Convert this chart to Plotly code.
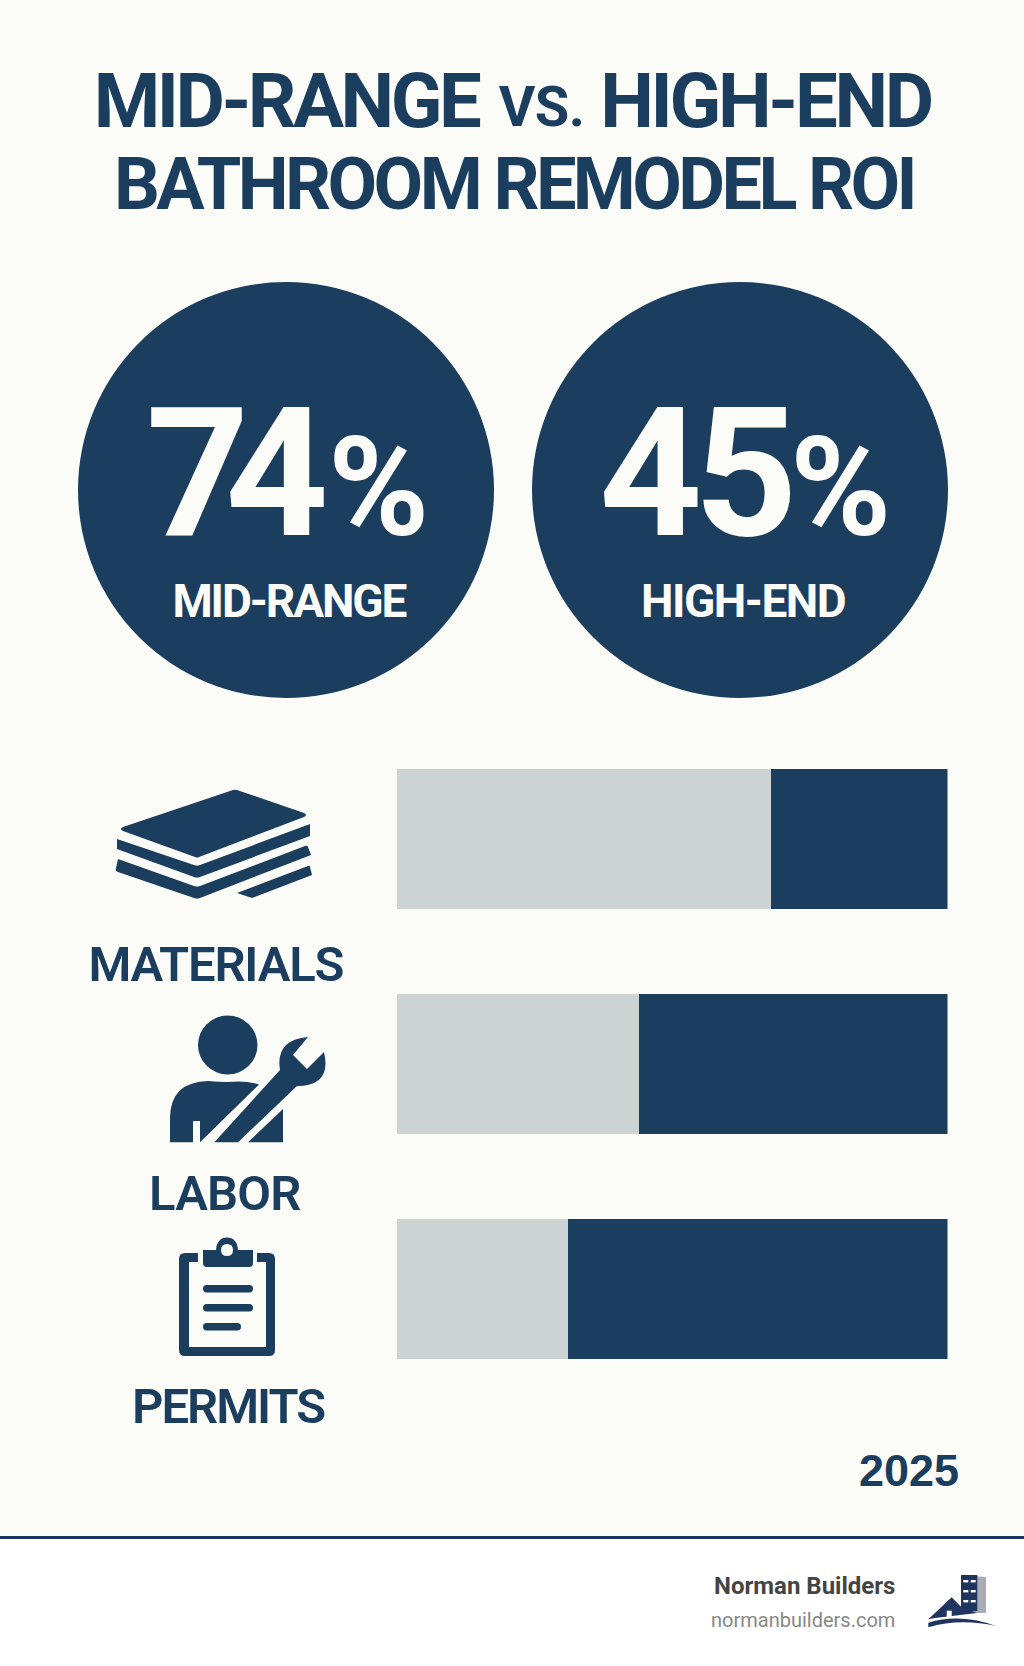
import json
import plotly.graph_objects as go

# ==========================================
# data
# ==========================================
categories = ['MATERIALS', 'LABOR', 'PERMITS']
mid_range_share = [68, 44, 31]
high_end_share = [32, 56, 69]

roi_labels = ['MID-RANGE', 'HIGH-END']
roi_values = ['74', '45']

NAVY = '#1b3d5e'
GREY = '#cdd3d3'
BG = '#fbfcf8'
WHITE = '#fbfbf8'
W, H = 1024, 1666

fig = go.Figure()

# stacked bars, on their own axes placed over the right part of the page
fig.add_trace(go.Bar(y=categories, x=mid_range_share, orientation='h', name='Mid-range',
                     marker=dict(color=GREY, line_width=0), showlegend=False))
fig.add_trace(go.Bar(y=categories, x=high_end_share, orientation='h', name='High-end',
                     marker=dict(color=NAVY, line_width=0), showlegend=False))
# empty trace so the page-pixel axes exist
fig.add_trace(go.Scatter(x=[None], y=[None], xaxis='x2', yaxis='y2', showlegend=False, hoverinfo='skip'))

spacing = []  # letter spacing per annotation, applied in the page after plotting


def add_text(text, x, y, size, color=NAVY, anchor='center', family='Roboto', weight=700, ls=0):
    spacing.append(ls)
    fig.add_annotation(text=text, x=x, y=y, xref='x2', yref='y2', showarrow=False,
                       xanchor=anchor, yanchor='middle', borderpad=0,
                       font=dict(family=family, size=size, color=color, weight=weight))


def add_path(path, color=NAVY):
    fig.add_shape(type='path', path=path, xref='x2', yref='y2', fillcolor=color, line_width=0, layer='above')


def add_round_rect(x0, y0, x1, y1, color=NAVY):
    r = (y1 - y0) / 2
    add_path(f'M{x0 + r},{y0} L{x1 - r},{y0} Q{x1},{y0} {x1},{y0 + r} Q{x1},{y1} {x1 - r},{y1} '
             f'L{x0 + r},{y1} Q{x0},{y1} {x0},{y0 + r} Q{x0},{y0} {x0 + r},{y0} Z', color)


# footer band and rule
fig.add_shape(type='rect', x0=0, x1=W, y0=1537, y1=H, xref='x2', yref='y2', fillcolor='#ffffff', line_width=0, layer='below')
fig.add_shape(type='rect', x0=0, x1=W, y0=1536, y1=1539, xref='x2', yref='y2', fillcolor='#1f3560', line_width=0, layer='below')

# title
add_text('MID-RANGE', 286, 101, 76, ls=-3.5)
add_text('VS.', 541.5, 107, 56, ls=-0.5)
add_text('HIGH-END', 765.5, 101, 76, ls=-3.3)
add_text('BATHROOM REMODEL ROI', 513.5, 184, 72, ls=-3.6)

# ROI circles
for cx in [286, 740]:
    fig.add_shape(type='circle', x0=cx - 208, x1=cx + 208, y0=282, y1=698, xref='x2', yref='y2',
                  fillcolor=NAVY, line_width=0, layer='below')
add_text(roi_values[0], 225.5, 473, 180, WHITE, ls=-24)
add_text('%', 378, 488, 137, WHITE)
add_text(roi_values[1], 694, 473, 180, WHITE, ls=-8)
add_text('%', 840, 488, 137, WHITE)
add_text(roi_labels[0], 289, 601, 46, WHITE, ls=-2.1)
add_text(roi_labels[1], 743, 601, 46, WHITE, ls=-1.5)

# category labels
add_text(categories[0], 215.5, 964, 49, weight=600, ls=-1.2)
add_text(categories[1], 225, 1193, 49, weight=600, ls=-0.8)
add_text(categories[2], 228, 1406, 49, weight=600, ls=-2)

# stack of sheets icon
add_path('M233,790 Q235,789.5 237,790 L304,813 Q308,815 304,817 L199,857 Q197,858 195,857 L123,831 Q119,829 123,827 Z')
add_path('M117,839 L194,865 Q197,866 200,865 L310,824 L310,836 L200,877 Q197,878 194,877 L117,849 Z')
add_path('M118,859 L194,886 Q197,887 200,886 L305,846 Q307,845 308,847 L311,855 L200,898 Q197,899 194,898 L118,872 Q115,871 116,868 Z')
add_path('M237,893 L308,866 Q310,865 310,867 L312,875 L252,898 Z')

# worker with wrench icon
fig.add_shape(type='circle', x0=198, x1=257.5, y0=1015.5, y1=1074.5, xref='x2', yref='y2', fillcolor=NAVY, line_width=0, layer='above')
add_path('M170,1142.3 L170,1117 Q171,1082 208,1081 Q218,1082 228,1082 Q245,1080 259,1084.5 L200,1142.3 '
         'L200,1121 L193,1121 L193,1142.3 Z')
add_path('M248,1142.3 L283,1109 L283,1142.3 Z')
add_path('M214.3,1142.3 L280,1070 Q275,1040 308,1037 L293,1055 L307,1069 L324,1052 Q332,1086 297,1086 L238,1142.3 Z')

# clipboard icon
add_path('M198,1253 L185,1253 Q179,1253 179,1259 L179,1350 Q179,1356 185,1356 L269,1356 Q275,1356 275,1350 '
         'L275,1259 Q275,1253 269,1253 L257,1253 L257,1262 L266,1262 L266,1347 L189,1347 L189,1262 L198,1262 Z')
add_path('M203,1250 L216,1250 Q217,1237.5 227,1237.5 Q237,1237.5 238,1250 L253,1250 Q253,1250 253,1250 L253,1263 '
         'Q253,1267 249,1267 L207,1267 Q203,1267 203,1263 Z '
         'M221,1250 Q221,1256 227,1256 Q233,1256 233,1250 Q233,1244 227,1244 Q221,1244 221,1250 Z')
add_round_rect(203, 1285, 253, 1292.5)
add_round_rect(203, 1304, 253, 1311.5)
add_round_rect(203, 1323, 241, 1330.5)

# 2025 + footer brand
add_text('2025', 960, 1470, 45, anchor='right', family='Liberation Sans')
add_text('Norman Builders', 896, 1586, 24, '#444444', 'right')
add_text('normanbuilders.com', 896, 1620, 20, '#888888', 'right', weight=400)

# logo
add_path('M961,1575 L986,1577 L986,1613 L961,1613 Z', '#a9adb3')
add_path('M961,1575 L977.3,1575 L977.3,1611 L961,1611 Z', '#1f3560')
add_path('M928.3,1619.3 L951.7,1597.3 L961,1606.7 L977,1613 L935,1618 Z', '#1f3560')
add_path('M946.7,1618.3 L946.7,1610.7 L951.7,1610.7 L951.7,1618.3 Z', '#ffffff')
add_path('M928.3,1622.7 Q960,1613 996,1626 Q960,1618 928.3,1627.3 Z', '#1f3560')
for wy in [1580, 1590, 1600]:
    for wx in [963.3, 970.7]:
        fig.add_shape(type='rect', x0=wx, x1=wx + 5, y0=wy, y1=wy + 2.4, xref='x2', yref='y2',
                      fillcolor='#ffffff', line_width=0, layer='above')

fig.update_layout(
    width=W, height=H, margin=dict(l=0, r=0, t=0, b=0),
    paper_bgcolor=BG, plot_bgcolor='rgba(0,0,0,0)',
    barmode='stack', bargap=0.378,
    xaxis=dict(domain=[397 / W, 947.5 / W], range=[0, 100], visible=False),
    yaxis=dict(domain=[1 - 1402 / H, 1 - 726.5 / H], autorange='reversed', visible=False),
    xaxis2=dict(domain=[0, 1], range=[0, W], visible=False, anchor='y2'),
    yaxis2=dict(domain=[0, 1], range=[H, 0], visible=False, anchor='x2'),
)

post = """document.body.style.margin='0';document.documentElement.style.overflow='hidden';
var sp = %s;
document.querySelectorAll('.annotation').forEach(function (a) {
  a.querySelector('.annotation-text').style.letterSpacing = sp[+a.getAttribute('data-index')] + 'px';
});""" % json.dumps(spacing)

fig.write_html('out.html', config=dict(displayModeBar=False), post_script=post)
